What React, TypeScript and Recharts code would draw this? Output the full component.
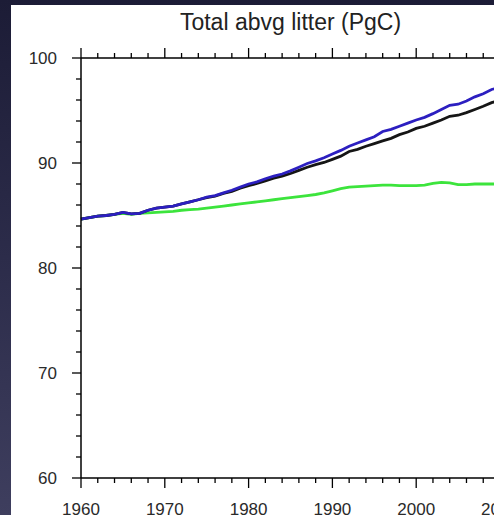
import { LineChart, Line, XAxis, YAxis } from 'recharts';

const years = [
  1960, 1961, 1962, 1963, 1964, 1965, 1966, 1967, 1968, 1969,
  1970, 1971, 1972, 1973, 1974, 1975, 1976, 1977, 1978, 1979,
  1980, 1981, 1982, 1983, 1984, 1985, 1986, 1987, 1988, 1989,
  1990, 1991, 1992, 1993, 1994, 1995, 1996, 1997, 1998, 1999,
  2000, 2001, 2002, 2003, 2004, 2005, 2006, 2007, 2008, 2009, 2010,
];

const blueSeries = [
  84.65, 84.8, 84.95, 85.0, 85.1, 85.3, 85.15, 85.2, 85.5, 85.7,
  85.8, 85.9, 86.1, 86.3, 86.5, 86.75, 86.9, 87.15, 87.4, 87.7,
  88.0, 88.2, 88.5, 88.75, 88.95, 89.25, 89.6, 89.95, 90.2, 90.5,
  90.85, 91.2, 91.6, 91.9, 92.2, 92.5, 93.0, 93.2, 93.5, 93.8,
  94.1, 94.35, 94.7, 95.1, 95.5, 95.6, 95.9, 96.3, 96.6, 97.0, 97.2,
];

const blackSeries = [
  84.65, 84.8, 84.95, 85.0, 85.1, 85.3, 85.15, 85.2, 85.5, 85.7,
  85.8, 85.9, 86.1, 86.3, 86.5, 86.7, 86.85, 87.1, 87.3, 87.6,
  87.85, 88.05, 88.3, 88.55, 88.75, 89.0, 89.3, 89.6, 89.85, 90.05,
  90.35, 90.65, 91.1, 91.3, 91.6, 91.85, 92.1, 92.35, 92.7, 92.95,
  93.3, 93.5, 93.8, 94.1, 94.45, 94.55, 94.8, 95.1, 95.4, 95.75, 95.95,
];

const greenSeries = [
  84.65, 84.8, 84.95, 85.0, 85.1, 85.2, 85.1, 85.2, 85.25, 85.3,
  85.35, 85.4, 85.5, 85.55, 85.6, 85.7, 85.8, 85.9, 86.0, 86.1,
  86.2, 86.3, 86.4, 86.5, 86.6, 86.7, 86.8, 86.9, 87.0, 87.15,
  87.35, 87.55, 87.7, 87.75, 87.8, 87.85, 87.9, 87.9, 87.85, 87.85,
  87.85, 87.9, 88.05, 88.15, 88.1, 87.95, 87.95, 88.0, 88.0, 88.0, 88.0,
];

const xTicks = [
  1960, 1962, 1964, 1966, 1968, 1970, 1972, 1974, 1976, 1978,
  1980, 1982, 1984, 1986, 1988, 1990, 1992, 1994, 1996, 1998,
  2000, 2002, 2004, 2006, 2008, 2010,
];
const yTicks = [
  60, 62, 64, 66, 68, 70, 72, 74, 76, 78,
  80, 82, 84, 86, 88, 90, 92, 94, 96, 98, 100,
];

const data = years.map((year, i) => ({
  year,
  blue: blueSeries[i],
  black: blackSeries[i],
  green: greenSeries[i],
}));

const FONT = '"Liberation Sans", Arial, Helvetica, sans-serif';

function BottomTick(props: any) {
  const { x, y, payload } = props;
  const major = payload.value % 10 === 0;
  return (
    <g>
      <line x1={x} y1={y} x2={x} y2={y + (major ? 10 : 5)} stroke="#000" strokeWidth={1.3} />
      {major && (
        <text x={x} y={y + 37} textAnchor="middle" fontSize={17} fontFamily={FONT} fill="#2a2a2a">
          {payload.value}
        </text>
      )}
    </g>
  );
}

function TopTick(props: any) {
  const { x, y, payload } = props;
  const major = payload.value % 10 === 0;
  return <line x1={x} y1={y} x2={x} y2={y - (major ? 10 : 5)} stroke="#000" strokeWidth={1.3} />;
}

function LeftTick(props: any) {
  const { x, y, payload } = props;
  const major = payload.value % 10 === 0;
  return (
    <g>
      <line x1={x} y1={y} x2={x - (major ? 9 : 5)} y2={y} stroke="#000" strokeWidth={1.3} />
      {major && (
        <text x={x - 24} y={y} dy="0.36em" textAnchor="end" fontSize={17} fontFamily={FONT} fill="#2a2a2a">
          {payload.value}
        </text>
      )}
    </g>
  );
}

function RightTick(props: any) {
  const { x, y, payload } = props;
  const major = payload.value % 10 === 0;
  return <line x1={x} y1={y} x2={x + (major ? 9 : 5)} y2={y} stroke="#000" strokeWidth={1.3} />;
}

export default function App() {
  return (
    <div
      style={{
        position: 'fixed',
        left: 0,
        top: 0,
        width: 494,
        height: 515,
        overflow: 'hidden',
        background: 'linear-gradient(180deg, #1c1c36 0%, #2c2c4a 50%, #3e3e5e 100%)',
      }}
    >
      <div style={{ position: 'absolute', left: 11, top: 5, width: 500, height: 520, background: '#fff' }} />
      <div
        style={{
          position: 'absolute',
          left: 81,
          width: 419,
          top: 9,
          textAlign: 'center',
          fontFamily: FONT,
          fontSize: 23,
          color: '#222',
        }}
      >
        Total abvg litter (PgC)
      </div>
      <div style={{ position: 'absolute', left: 0, top: 0 }}>
        <LineChart width={540} height={540} data={data} margin={{ top: 48, right: 20, bottom: 32, left: 21 }}>
          <XAxis
            dataKey="year"
            type="number"
            domain={[1960, 2010]}
            ticks={xTicks}
            interval={0}
            height={30}
            tickSize={0}
            tickMargin={0}
            tickLine={false}
            axisLine={{ stroke: '#000', strokeWidth: 1.5 }}
            tick={<BottomTick />}
          />
          <XAxis
            xAxisId="top"
            orientation="top"
            dataKey="year"
            type="number"
            domain={[1960, 2010]}
            ticks={xTicks}
            interval={0}
            height={10}
            tickSize={0}
            tickMargin={0}
            tickLine={false}
            axisLine={{ stroke: '#000', strokeWidth: 1.5 }}
            tick={<TopTick />}
          />
          <YAxis
            type="number"
            domain={[60, 100]}
            ticks={yTicks}
            interval={0}
            width={60}
            tickSize={0}
            tickMargin={0}
            tickLine={false}
            axisLine={{ stroke: '#000', strokeWidth: 1.5 }}
            tick={<LeftTick />}
          />
          <YAxis
            yAxisId="right"
            orientation="right"
            type="number"
            domain={[60, 100]}
            ticks={yTicks}
            interval={0}
            width={20}
            tickSize={0}
            tickMargin={0}
            tickLine={false}
            axisLine={{ stroke: '#000', strokeWidth: 1.5 }}
            tick={<RightTick />}
          />
          <Line type="linear" dataKey="green" stroke="#3ce43c" strokeWidth={2.8} dot={false} isAnimationActive={false} />
          <Line type="linear" dataKey="black" stroke="#151515" strokeWidth={2.8} dot={false} isAnimationActive={false} />
          <Line type="linear" dataKey="blue" stroke="#2c1fc0" strokeWidth={2.8} dot={false} isAnimationActive={false} />
        </LineChart>
      </div>
    </div>
  );
}
